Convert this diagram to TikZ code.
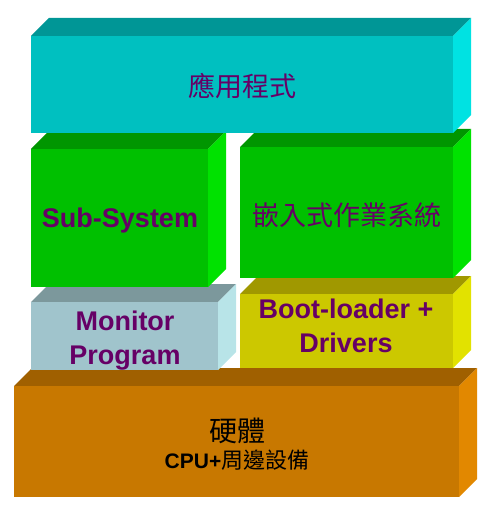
\documentclass[tikz,border=0pt]{standalone}
\usepackage{fontspec}
\setmainfont{Liberation Sans}
\newfontfamily\cjk{Noto Sans CJK TC}

\definecolor{CyanFront}{RGB}{0,192,192}
\definecolor{CyanTop}{RGB}{0,150,150}
\definecolor{CyanSide}{RGB}{0,226,226}
\definecolor{GreenFront}{RGB}{0,192,0}
\definecolor{GreenTop}{RGB}{0,150,0}
\definecolor{GreenSide}{RGB}{0,226,0}
\definecolor{SteelFront}{RGB}{160,196,204}
\definecolor{SteelTop}{RGB}{124,152,156}
\definecolor{SteelSide}{RGB}{184,228,232}
\definecolor{OliveFront}{RGB}{204,200,0}
\definecolor{OliveTop}{RGB}{160,152,0}
\definecolor{OliveSide}{RGB}{226,226,0}
\definecolor{BrownFront}{RGB}{200,120,0}
\definecolor{BrownTop}{RGB}{160,96,0}
\definecolor{BrownSide}{RGB}{226,136,0}
\definecolor{LabelPurple}{RGB}{102,0,102}

\begin{document}
\begin{tikzpicture}[x=1pt, y=-1pt,
	lbl/.style={text=LabelPurple, font=\bfseries\fontsize{27}{34}\selectfont, align=center, inner sep=0pt},
	cjklbl/.style={text=LabelPurple, font=\cjk\fontsize{27}{33}\selectfont, inner sep=0pt}]
	\useasboundingbox (0,0) rectangle (490,510);
	% blocks, drawn from the bottom layer up
	\foreach \clr/\xa/\ya/\xb/\yb in {Brown/14/386/459/497, Steel/31/302/218/370, Olive/240/294/453/368, Green/31/149/208/287, Green/240/147/453/278, Cyan/31/36/453/133}{
		\fill[fill=\clr Top] (\xa,\ya) -- (\xa+18,\ya-18) -- (\xb+18,\ya-18) -- (\xb,\ya) -- cycle;
		\fill[fill=\clr Side] (\xb,\ya) -- (\xb+18,\ya-18) -- (\xb+18,\yb-18) -- (\xb,\yb) -- cycle;
		\fill[fill=\clr Front] (\xa,\ya) rectangle (\xb,\yb);
	}
	% labels
	\node[cjklbl] (app) at (242,86) {應用程式};
	\node[lbl] (sub) at (120,221) {Sub-System};
	\node[cjklbl] (emb) at (347,215) {嵌入式作業系統};
	\node[lbl] (mon) at (125,341) {Monitor\\Program};
	\node[lbl] (boot) at (346,326) {Boot-loader +\\Drivers};
	\node[align=center, inner sep=0pt] (hw) at (237,444)
		{{\cjk\fontsize{28}{30}\selectfont 硬體}\\[5pt]{\bfseries\fontsize{21}{26}\selectfont CPU+}{\cjk\fontsize{22}{26}\selectfont 周邊設備}};
\end{tikzpicture}
\end{document}
